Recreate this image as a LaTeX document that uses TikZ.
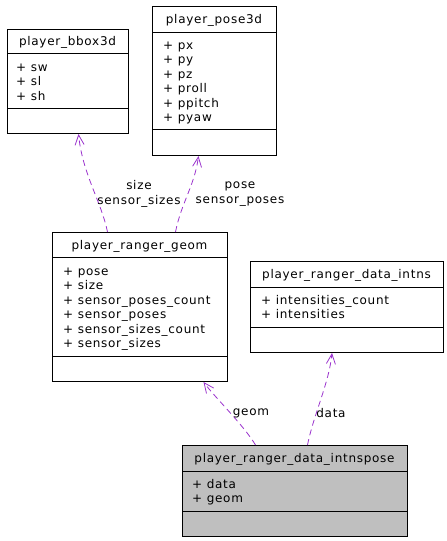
\documentclass[tikz,border=0pt]{standalone}
\usepackage{fontspec}
\setmainfont{DejaVu Sans}[LetterSpace=6]
\usetikzlibrary{arrows.meta}
\definecolor{edgecol}{HTML}{9A32CD}
\definecolor{boxgray}{HTML}{BFBFBF}
\tikzset{
  cls/.style={draw=black, line width=1pt, inner sep=0pt, anchor=north west},
  sepline/.style={draw=black, line width=1pt},
  ttl/.style={anchor=base, inner sep=0pt},
  attr/.style={anchor=base west, inner sep=0pt},
  elabel/.style={align=center, inner sep=0pt},
  rel/.style={draw=edgecol, line width=0.8pt, dash pattern=on 6pt off 4pt,
    -{Straight Barb[length=10pt,width=9pt,line width=0.8pt]}},
}
\begin{document}
\begin{tikzpicture}[x=1pt,y=-1pt,font=\fontsize{12}{14.5}\selectfont]
\useasboundingbox (0,0) rectangle (447,541);
% player_bbox3d
\node[cls, minimum width=121pt, minimum height=104pt] (bbox) at (7,29) {};
\draw[sepline] (7,53) -- (128,53) (7,108) -- (128,108);
\node[ttl] (bboxT) at (67.5,45) {player\_bbox3d};
\foreach [count=\i] \t in {sw,sl,sh}
  \node[attr] (bboxA\i) at (16,{71+(\i-1)*14.5}) {+ \t};
% player_pose3d
\node[cls, minimum width=124pt, minimum height=149pt] (pose) at (152,6) {};
\draw[sepline] (152,32) -- (276,32) (152,129) -- (276,129);
\node[ttl] (poseT) at (214,23) {player\_pose3d};
\foreach [count=\i] \t in {px,py,pz,proll,ppitch,pyaw}
  \node[attr] (poseA\i) at (163,{49+(\i-1)*14.5}) {+ \t};
% player_ranger_geom
\node[cls, minimum width=175pt, minimum height=149pt] (geom) at (52,232) {};
\draw[sepline] (52,257) -- (227,257) (52,356) -- (227,356);
\node[ttl] (geomT) at (139.5,249) {player\_ranger\_geom};
\foreach [count=\i] \t in {pose,size,sensor\_poses\_count,sensor\_poses,sensor\_sizes\_count,sensor\_sizes}
  \node[attr] (geomA\i) at (63,{275+(\i-1)*14.5}) {+ \t};
% player_ranger_data_intns
\node[cls, minimum width=193pt, minimum height=91pt] (intns) at (250,261) {};
\draw[sepline] (250,287) -- (443,287) (250,327) -- (443,327);
\node[ttl] (intnsT) at (346.5,278) {player\_ranger\_data\_intns};
\foreach [count=\i] \t in {intensities\_count,intensities}
  \node[attr] (intnsA\i) at (261,{304+(\i-1)*14.5}) {+ \t};
% player_ranger_data_intnspose
\node[cls, fill=boxgray, minimum width=225pt, minimum height=91pt] (ip) at (182,445) {};
\draw[sepline] (182,471) -- (407,471) (182,511) -- (407,511);
\node[ttl] (ipT) at (294.5,462) {player\_ranger\_data\_intnspose};
\foreach [count=\i] \t in {data,geom}
  \node[attr] (ipA\i) at (192,{488+(\i-1)*14.5}) {+ \t};
% relations
\draw[rel] ([xshift=-32.5pt]geom.north) .. controls +(-6,-30) and +(4,40) .. ([xshift=10.5pt]bbox.south);
\draw[rel] ([xshift=35.5pt]geom.north) .. controls +(6,-30) and +(-4,30) .. ([xshift=-16pt]pose.south);
\draw[rel] ([xshift=-39.5pt]ip.north) .. controls +(-12,-20) and +(12,16) .. ([xshift=63.5pt]geom.south);
\draw[rel] ([xshift=12.5pt]ip.north) .. controls +(6,-30) and +(-3,30) .. ([xshift=-15pt]intns.south);
% labels
\node[elabel] (l1) at (139,194) {size\\sensor\_sizes};
\node[elabel] (l2) at (240,194) {pose\\sensor\_poses};
\node[elabel] (l3) at (251,413) {geom};
\node[elabel] (l4) at (331,413) {data};
\end{tikzpicture}
\end{document}
